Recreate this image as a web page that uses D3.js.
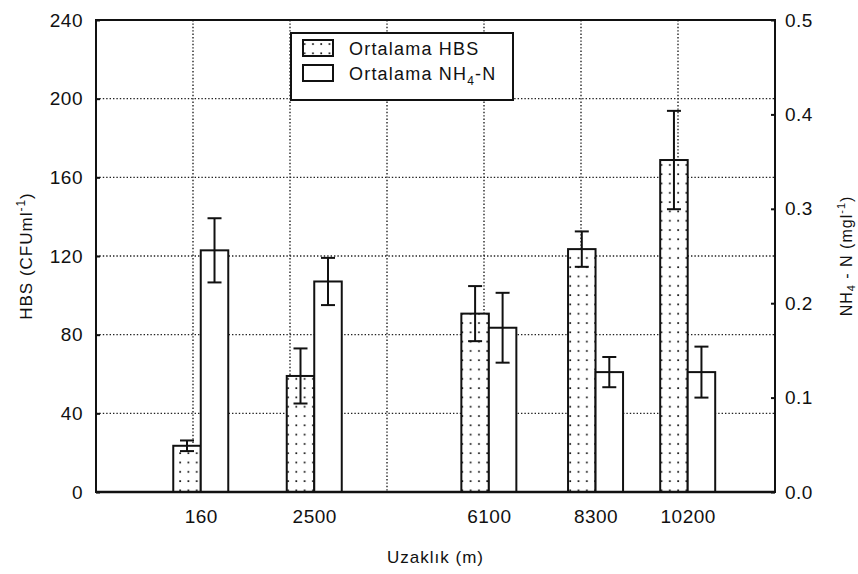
<!DOCTYPE html>
<html>
<head>
<meta charset="utf-8">
<script src="https://cdn.jsdelivr.net/npm/d3@7"></script>
<style>
  html, body { margin: 0; padding: 0; background: #fff; }
  svg { display: block; font-family: "Liberation Sans", Arial, sans-serif; }
</style>
</head>
<body>
<svg id="chart" width="858" height="574"></svg>
<script>
// ---- data ----
const distances = [160, 2500, 6100, 8300, 10200];
const xTickLabels = ["160", "2500", "6100", "8300", "10200"];
const hbsMean = [23.5, 59, 90.7, 123.5, 168.8];
const hbsErr = [2.7, 14, 14, 9, 25];
const nh4Mean = [0.256, 0.223, 0.174, 0.127, 0.127];
const nh4Err = [0.034, 0.025, 0.037, 0.016, 0.027];
const leftTicks = [0, 40, 80, 120, 160, 200, 240];
const rightTicks = [0, 0.1, 0.2, 0.3, 0.4, 0.5];
const xGridValues = [0, 2000, 4000, 6000, 8000, 10000];
const yGridValues = [40, 80, 120, 160, 200];
const legendLabels = ["Ortalama HBS", "Ortalama NH"];

// ---- layout ----
const W = 858, H = 574;
const m = { left: 96, right: 83, top: 20, bottom: 82 };
const x = d3.scaleLinear().domain([-2000, 12000]).range([m.left, W - m.right]);
const yL = d3.scaleLinear().domain([0, 240]).range([H - m.bottom, m.top]);
const yR = d3.scaleLinear().domain([0, 0.5]).range([H - m.bottom, m.top]);
const barW = 27.5;
const capW = 14;
const ink = "#111";

const svg = d3.select("#chart");
svg.append("rect").attr("width", W).attr("height", H).attr("fill", "#fff");

const defs = svg.append("defs");
const pat = defs.append("pattern").attr("id", "dots")
  .attr("patternUnits", "userSpaceOnUse").attr("width", 8.3).attr("height", 9.3)
  .attr("x", 2).attr("y", 3);
pat.append("rect").attr("width", 8.3).attr("height", 9.3).attr("fill", "#fff");
pat.append("rect").attr("x", 3).attr("y", 3).attr("width", 1.7).attr("height", 1.7).attr("fill", "#111");

// grid
const grid = svg.append("g").attr("stroke", "#222").attr("stroke-width", 1.4)
  .attr("stroke-dasharray", "1.4,2");
grid.selectAll("line.h").data(yGridValues).join("line").attr("class", "h")
  .attr("x1", m.left).attr("x2", W - m.right)
  .attr("y1", d => yL(d)).attr("y2", d => yL(d));
grid.selectAll("line.v").data(xGridValues).join("line").attr("class", "v")
  .attr("y1", m.top).attr("y2", H - m.bottom)
  .attr("x1", d => x(d)).attr("x2", d => x(d));

// bars
const idx = d3.range(distances.length);
svg.append("g").selectAll("rect").data(idx).join("rect")
  .attr("x", i => x(distances[i]) - barW).attr("width", barW)
  .attr("y", i => yL(hbsMean[i])).attr("height", i => yL(0) - yL(hbsMean[i]))
  .attr("fill", "url(#dots)").attr("stroke", ink).attr("stroke-width", 2);
svg.append("g").selectAll("rect").data(idx).join("rect")
  .attr("x", i => x(distances[i])).attr("width", barW)
  .attr("y", i => yR(nh4Mean[i])).attr("height", i => yR(0) - yR(nh4Mean[i]))
  .attr("fill", "#fff").attr("stroke", ink).attr("stroke-width", 2);

// error bars
function errBars(cx, vals, errs, scale) {
  const g = svg.append("g").attr("stroke", ink).attr("stroke-width", 2);
  idx.forEach(i => {
    const c = cx(i), hi = scale(vals[i] + errs[i]), lo = scale(vals[i] - errs[i]);
    g.append("line").attr("x1", c).attr("x2", c).attr("y1", hi).attr("y2", lo);
    g.append("line").attr("x1", c - capW / 2).attr("x2", c + capW / 2).attr("y1", hi).attr("y2", hi);
    g.append("line").attr("x1", c - capW / 2).attr("x2", c + capW / 2).attr("y1", lo).attr("y2", lo);
  });
}
errBars(i => x(distances[i]) - barW / 2, hbsMean, hbsErr, yL);
errBars(i => x(distances[i]) + barW / 2, nh4Mean, nh4Err, yR);

// frame
svg.append("rect").attr("x", m.left).attr("y", m.top)
  .attr("width", W - m.left - m.right).attr("height", H - m.top - m.bottom)
  .attr("fill", "none").attr("stroke", ink).attr("stroke-width", 2);
svg.append("line").attr("x1", m.left).attr("x2", W - m.right)
  .attr("y1", H - m.bottom).attr("y2", H - m.bottom)
  .attr("stroke", ink).attr("stroke-width", 2.5);

// axes
const fontSize = 19;
const gL = svg.append("g").attr("transform", `translate(${m.left},0)`)
  .call(d3.axisLeft(yL).tickValues(leftTicks).tickFormat(d3.format("d"))
    .tickSizeInner(-4).tickSizeOuter(0).tickPadding(13));
const gR = svg.append("g").attr("transform", `translate(${W - m.right},0)`)
  .call(d3.axisRight(yR).tickValues(rightTicks).tickFormat(d3.format(".1f"))
    .tickSizeInner(-4).tickSizeOuter(0).tickPadding(10));
const gX = svg.append("g").attr("transform", `translate(0,${H - m.bottom})`)
  .call(d3.axisBottom(x).tickValues(distances).tickFormat((d, i) => xTickLabels[i])
    .tickSize(0).tickPadding(18));
[gL, gR, gX].forEach(g => {
  g.select(".domain").remove();
  g.selectAll("line").attr("stroke", ink).attr("stroke-width", 2);
  g.selectAll("text").attr("fill", ink).attr("font-size", fontSize)
    .attr("font-family", "'Liberation Sans', Arial, sans-serif").attr("letter-spacing", 0.5);
});

// axis titles
const tSize = 17;
svg.append("text").attr("x", (m.left + W - m.right) / 2).attr("y", 563)
  .attr("text-anchor", "middle").attr("font-size", tSize).attr("fill", ink)
  .attr("letter-spacing", 1).text("Uzaklık (m)");

const lt = svg.append("text")
  .attr("transform", `translate(32,${(m.top + H - m.bottom) / 2}) rotate(-90)`)
  .attr("text-anchor", "middle").attr("font-size", tSize).attr("fill", ink).attr("letter-spacing", 1);
lt.append("tspan").text("HBS (CFUml");
lt.append("tspan").attr("dy", -7).attr("font-size", 12).text("-1");
lt.append("tspan").attr("dy", 7).text(")");

const rt = svg.append("text")
  .attr("transform", `translate(852,${(m.top + H - m.bottom) / 2}) rotate(-90)`)
  .attr("text-anchor", "middle").attr("font-size", 16).attr("fill", ink).attr("letter-spacing", 1);
rt.append("tspan").text("NH");
rt.append("tspan").attr("dy", 3).attr("font-size", 11).text("4");
rt.append("tspan").attr("dy", -3).text(" - N (mgl");
rt.append("tspan").attr("dy", -7).attr("font-size", 11).text("-1");
rt.append("tspan").attr("dy", 7).text(")");

// legend
const lg = svg.append("g");
lg.append("rect").attr("x", 291).attr("y", 33).attr("width", 222).attr("height", 67)
  .attr("fill", "#fff").attr("stroke", ink).attr("stroke-width", 2);
const rows = [
  { fill: "url(#dots)", y: 40 },
  { fill: "#fff", y: 65 }
];
rows.forEach((r, i) => {
  lg.append("rect").attr("x", 303).attr("y", r.y).attr("width", 30).attr("height", 16)
    .attr("fill", r.fill).attr("stroke", ink).attr("stroke-width", 2);
  const t = lg.append("text").attr("x", 349).attr("y", r.y + 15)
    .attr("font-size", 18).attr("fill", ink).attr("letter-spacing", 1.2);
  t.append("tspan").text(legendLabels[i]);
  if (i === 1) {
    t.append("tspan").attr("dy", 5).attr("font-size", 12).text("4");
    t.append("tspan").attr("dy", -5).text("-N");
  }
});
</script>
</body>
</html>
